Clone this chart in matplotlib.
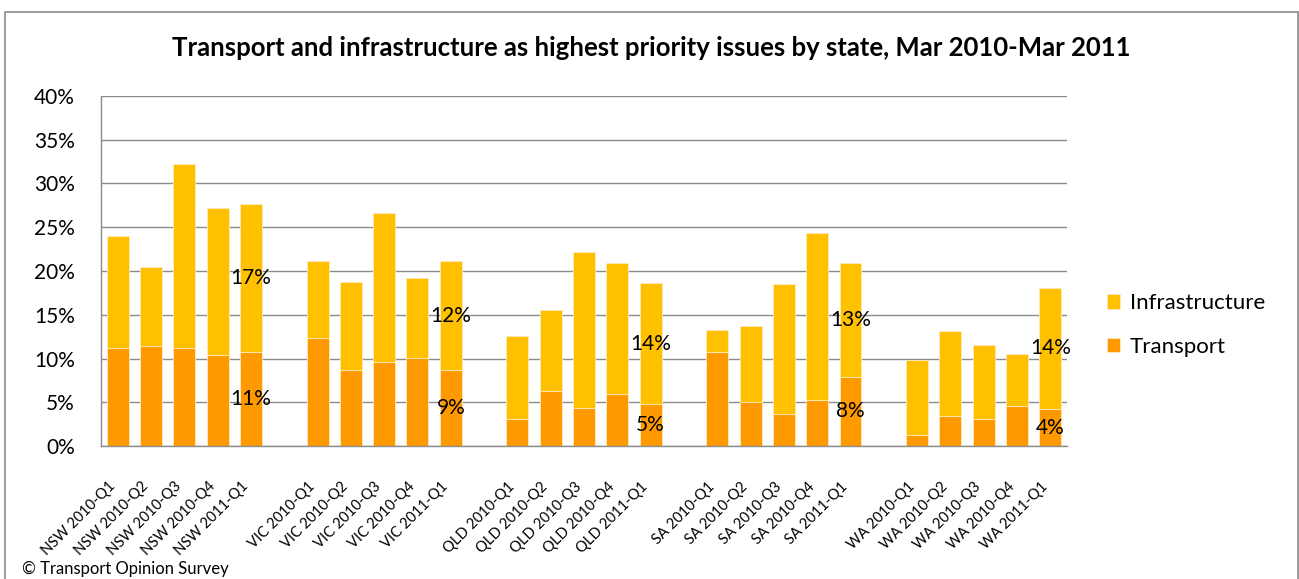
import numpy as np
import matplotlib.pyplot as plt
from matplotlib.patches import Rectangle

plt.rcParams['font.family'] = ['Lato', 'DejaVu Sans']

states = ["NSW", "VIC", "QLD", "SA", "WA"]
quarters = ["2010-Q1", "2010-Q2", "2010-Q3", "2010-Q4", "2011-Q1"]

# percent of respondents
transport = {
    "NSW": [11.2, 11.4, 11.2, 10.4, 10.7],
    "VIC": [12.4, 8.7, 9.6, 10.1, 8.7],
    "QLD": [3.1, 6.3, 4.4, 5.9, 4.8],
    "SA":  [10.7, 5.0, 3.7, 5.3, 7.9],
    "WA":  [1.3, 3.4, 3.1, 4.6, 4.2],
}
infrastructure = {
    "NSW": [12.8, 9.1, 21.0, 16.8, 17.0],
    "VIC": [8.7, 10.0, 17.0, 9.1, 12.4],
    "QLD": [9.5, 9.2, 17.8, 15.0, 13.8],
    "SA":  [2.6, 8.7, 14.8, 19.1, 13.0],
    "WA":  [8.5, 9.7, 8.4, 5.9, 13.9],
}

C_TRANS = "#FF9900"
C_INFRA = "#FFC000"
GRID = "#8c8c8c"

fig = plt.figure(figsize=(12.99, 5.79), dpi=100)
ax = fig.add_axes([0.0778, 0.2297, 0.7436, 0.6045])

xs, labels = [], []
for g, st in enumerate(states):
    x = np.arange(5) + g * 6
    t = np.array(transport[st])
    i = np.array(infrastructure[st])
    ax.bar(x, t, width=0.66, color=C_TRANS, edgecolor="#ffe9bf", linewidth=0.6,
           label="Transport" if g == 0 else None, zorder=2)
    ax.bar(x, i, bottom=t, width=0.66, color=C_INFRA, edgecolor="#ffe9bf", linewidth=0.6,
           label="Infrastructure" if g == 0 else None, zorder=2)
    # labels on latest quarter only
    ax.text(x[-1], t[-1] / 2, f"{t[-1]:.0f}%", ha="center", va="center", fontsize=15, zorder=3)
    ax.text(x[-1], t[-1] + i[-1] / 2, f"{i[-1]:.0f}%", ha="center", va="center", fontsize=15, zorder=3)
    xs += list(x)
    labels += [f"{st} {q}" for q in quarters]

ax.set_xlim(-0.5, 28.5)
ax.set_ylim(0, 40)
ax.set_yticks(np.arange(0, 41, 5))
ax.set_yticklabels([f"{v}%" for v in range(0, 41, 5)], fontsize=15)
ax.yaxis.grid(True, color=GRID, linewidth=1.0, zorder=0)
ax.set_axisbelow(True)
ax.tick_params(axis="y", length=0, pad=19)
ax.set_xticks(xs)
ax.set_xticklabels(labels, rotation=45, ha="right", va="top", fontsize=10.5)
ax.tick_params(axis="x", length=0, pad=24)

for s in ["top", "right"]:
    ax.spines[s].set_visible(False)
for s in ["left", "bottom"]:
    ax.spines[s].set_color(GRID)
    ax.spines[s].set_linewidth(1.0)

handles, labs = ax.get_legend_handles_labels()
fig.legend(handles[::-1], labs[::-1], loc="center left", bbox_to_anchor=(0.8365, 0.4387),
           frameon=False, fontsize=16, handlelength=0.6, handleheight=0.6,
           handletextpad=0.45, labelspacing=1.05)

fig.text(0.501, 0.917, "Transport and infrastructure as highest priority issues by state, Mar 2010-Mar 2011",
         ha="center", va="center", fontsize=18.5, fontweight="bold")
fig.text(0.017, 0.0086, "\u00a9 Transport Opinion Survey", ha="left", va="baseline", fontsize=12)

fig.patches.append(Rectangle((0.004, -0.05), 0.995, 1.03, transform=fig.transFigure,
                             fill=False, edgecolor=GRID, linewidth=1.2))

fig.savefig("out.png", dpi=100)
